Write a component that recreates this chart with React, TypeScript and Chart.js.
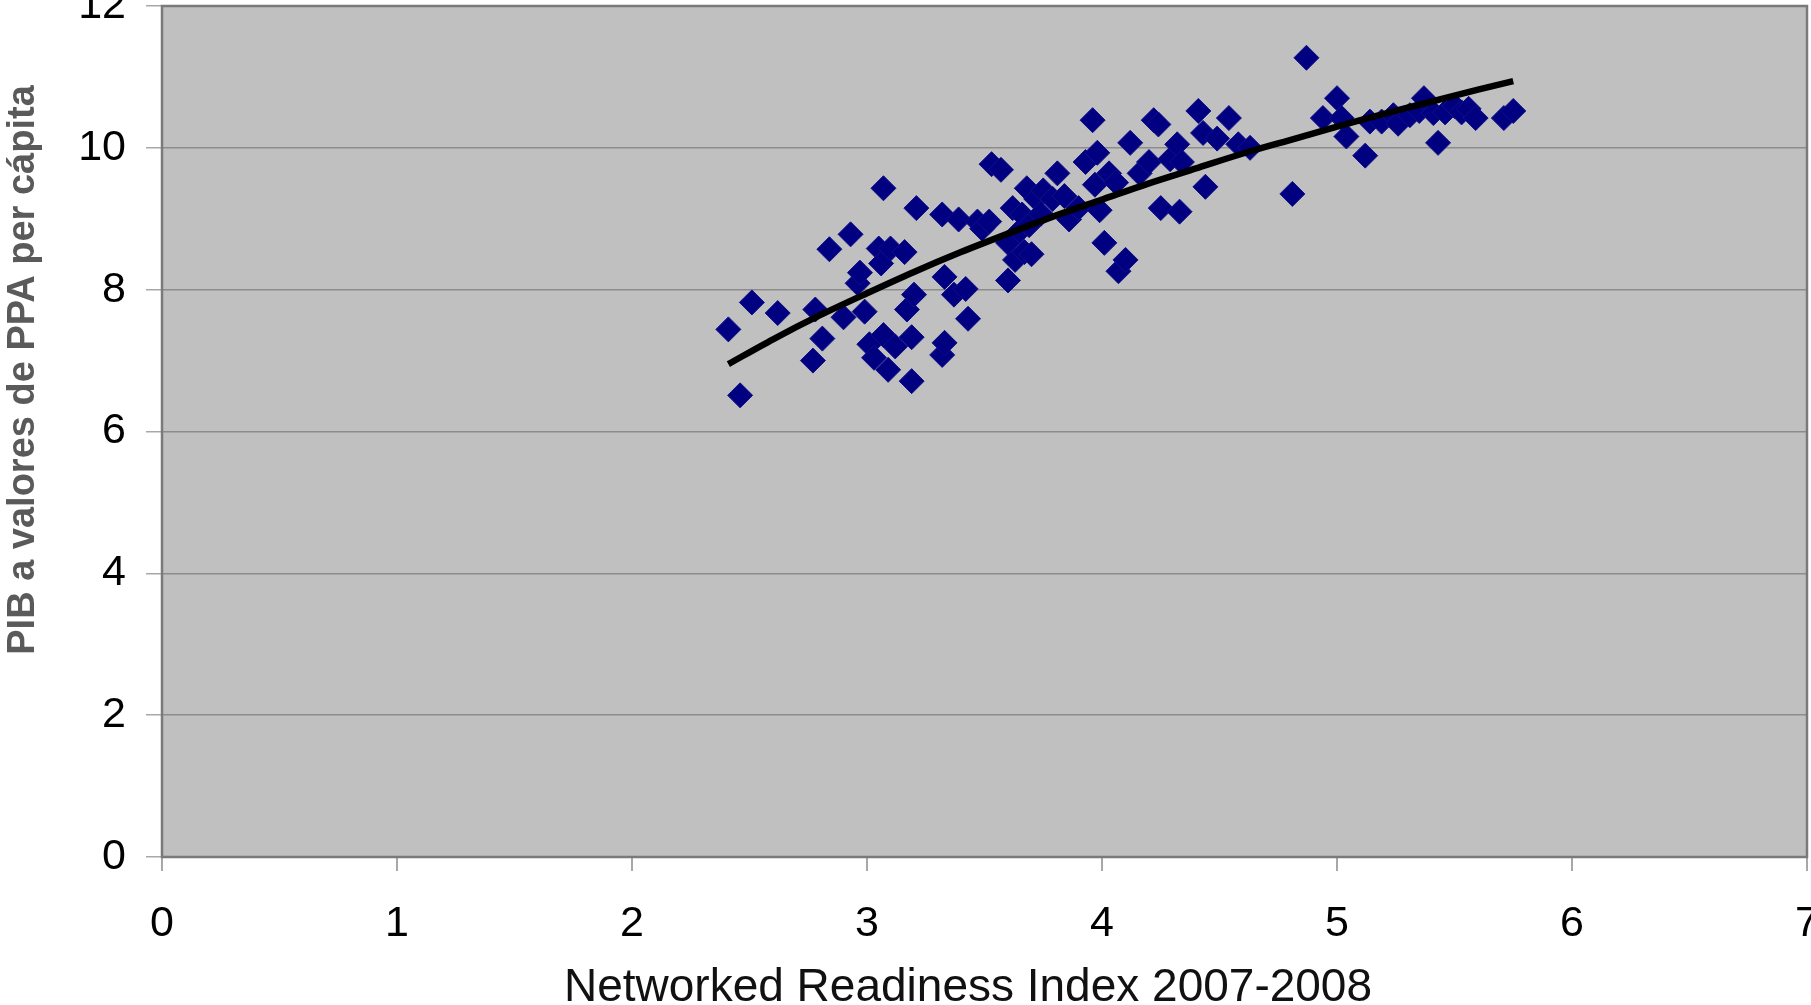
import React, { useEffect, useRef } from "react";
import { Chart, registerables } from "chart.js";

Chart.register(...registerables);

// Networked Readiness Index 2007-2008 (x) vs PIB a valores de PPA per cápita (y)
const nriValues = [
  2.41, 2.46, 2.51, 2.62, 2.77, 2.78, 2.81, 2.84, 2.9, 2.93,
  2.96, 2.97, 2.99, 3.01, 3.03, 3.05, 3.06, 3.07, 3.07, 3.09,
  3.1, 3.12, 3.16, 3.17, 3.19, 3.19, 3.2, 3.21, 3.32, 3.33,
  3.32, 3.33, 3.37, 3.39, 3.42, 3.43, 3.47, 3.49, 3.52, 3.53,
  3.57, 3.6, 3.6, 3.62, 3.63, 3.65, 3.66, 3.67, 3.68, 3.69,
  3.7, 3.72, 3.74, 3.75, 3.79, 3.81, 3.84, 3.86, 3.9, 3.93,
  3.96, 3.97, 3.98, 3.99, 4.01, 4.03, 4.06, 4.07, 4.1, 4.12,
  4.16, 4.2, 4.22, 4.24, 4.25, 4.29, 4.32, 4.33, 4.34, 4.41,
  4.43, 4.44, 4.49, 4.54, 4.58, 4.63, 4.81, 4.87, 4.94, 5.0,
  5.02, 5.04, 5.12, 5.14, 5.19, 5.24, 5.26, 5.31, 5.35, 5.37,
  5.41, 5.43, 5.46, 5.5, 5.53, 5.56, 5.59, 5.71, 5.75,
];
const gdpValues = [
  7.44, 6.51, 7.82, 7.67, 7.0, 7.72, 7.31, 8.57, 7.61, 8.78,
  8.09, 8.24, 7.69, 7.23, 7.04, 8.58, 8.37, 9.43, 7.36, 6.87,
  8.58, 7.2, 8.53, 7.72, 7.33, 6.71, 7.93, 9.15, 7.08, 7.25,
  9.06, 8.18, 7.93, 8.99, 8.01, 7.59, 8.96, 8.86, 8.96, 9.77,
  9.69, 8.13, 8.66, 9.15, 8.42, 8.83, 9.06, 8.53, 9.43, 8.91,
  8.5, 9.28, 9.07, 9.4, 9.28, 9.64, 9.32, 8.99, 9.15, 9.8,
  10.39, 9.48, 9.93, 9.12, 8.66, 9.64, 9.51, 8.26, 8.42, 10.07,
  9.64, 9.8, 10.39, 10.33, 9.15, 9.84, 10.05, 9.1, 9.8, 10.52,
  10.21, 9.45, 10.13, 10.42, 10.05, 10.0, 9.35, 11.27, 10.42, 10.7,
  10.42, 10.16, 9.89, 10.37, 10.37, 10.46, 10.34, 10.46, 10.52, 10.7,
  10.49, 10.07, 10.5, 10.59, 10.5, 10.55, 10.42, 10.42, 10.52,
];

// Trend line (logarithmic fit)
const trendX = [2.41, 2.6, 2.8, 3.0, 3.2, 3.4, 3.6, 3.8, 4.0, 4.2, 4.4, 4.6, 4.8, 5.0, 5.2, 5.4, 5.6, 5.75];
const trendY = [6.95, 7.3, 7.64, 7.95, 8.25, 8.53, 8.79, 9.04, 9.27, 9.5, 9.71, 9.92, 10.11, 10.3, 10.48, 10.65, 10.82, 10.94];

const xTitle = "Networked Readiness Index 2007-2008";
const yTitle = "PIB a valores de PPA per cápita";

const W = 1811;
const H = 1005;

const framePlugin = {
  id: "frame",
  beforeDraw(chart: any) {
    const { ctx, chartArea: a } = chart;
    ctx.save();
    ctx.fillStyle = "#c0c0c0";
    ctx.fillRect(a.left, a.top, a.right - a.left, a.bottom - a.top);
    ctx.restore();
  },
  afterDatasetsDraw(chart: any) {
    const { ctx, chartArea: a } = chart;
    ctx.save();
    ctx.strokeStyle = "#7a7a7a";
    ctx.lineWidth = 2.5;
    ctx.strokeRect(a.left, a.top, a.right - a.left, a.bottom - a.top);
    ctx.restore();
  },
  afterDraw(chart: any) {
    const { ctx } = chart;
    ctx.save();
    ctx.fillStyle = "#111111";
    ctx.font = '46px "Liberation Sans", Arial, sans-serif';
    ctx.textAlign = "center";
    ctx.textBaseline = "middle";
    ctx.fillText(xTitle, 968, 988);
    ctx.translate(24, 370);
    ctx.rotate(-Math.PI / 2);
    ctx.fillStyle = "#5a5a5a";
    ctx.font = 'bold 38px "Liberation Sans", Arial, sans-serif';
    ctx.fillText(yTitle, 0, 0);
    ctx.restore();
  },
};

export default function App() {
  const ref = useRef<HTMLCanvasElement | null>(null);

  useEffect(() => {
    document.body.style.margin = "0";
    const canvas = ref.current;
    if (!canvas) return;
    const points = nriValues.map((x, i) => ({ x, y: gdpValues[i] }));
    const trend = trendX.map((x, i) => ({ x, y: trendY[i] }));
    const tickFont = { family: '"Liberation Sans", Arial, sans-serif', size: 43 };

    const chart = new Chart(canvas, {
      type: "scatter",
      data: {
        datasets: [
          {
            type: "line",
            label: "Tendencia",
            data: trend,
            borderColor: "#000000",
            borderWidth: 6.5,
            pointRadius: 0,
            showLine: true,
            fill: false,
            tension: 0.3,
          } as any,
          {
            label: "Países",
            data: points,
            pointStyle: "rectRot",
            pointRadius: 12.5,
            backgroundColor: "#000080",
            borderColor: "#10108a",
            borderWidth: 1,
          },
        ],
      },
      options: {
        responsive: false,
        animation: false,
        devicePixelRatio: 1,
        layout: { autoPadding: false, padding: { top: 6, right: 4, left: 0, bottom: 0 } },
        plugins: { legend: { display: false }, tooltip: { enabled: false }, title: { display: false } },
        scales: {
          x: {
            type: "linear",
            min: 0,
            max: 7,
            ticks: { stepSize: 1, color: "#000000", font: tickFont, padding: 27, maxRotation: 0 },
            grid: { drawOnChartArea: false, drawTicks: true, tickLength: 14, tickColor: "#a8a8a8", lineWidth: 2 },
            border: { display: false },
            afterFit(scale: any) {
              scale.height = H - 857;
              scale.paddingLeft = 0;
              scale.paddingRight = 0;
            },
          },
          y: {
            type: "linear",
            min: 0,
            max: 12,
            ticks: { stepSize: 2, color: "#000000", font: tickFont, padding: 20 },
            grid: { color: "#8c8c8c", lineWidth: 1.5, drawTicks: true, tickLength: 16, tickColor: "#a8a8a8" },
            border: { display: false },
            afterFit(scale: any) {
              scale.width = 162;
              scale.paddingTop = 0;
              scale.paddingBottom = 0;
            },
          },
        },
      },
      plugins: [framePlugin],
    });
    return () => chart.destroy();
  }, []);

  return (
    <div style={{ position: "fixed", left: 0, top: 0, width: W, height: H, background: "#ffffff" }}>
      <canvas ref={ref} width={W} height={H} />
    </div>
  );
}
